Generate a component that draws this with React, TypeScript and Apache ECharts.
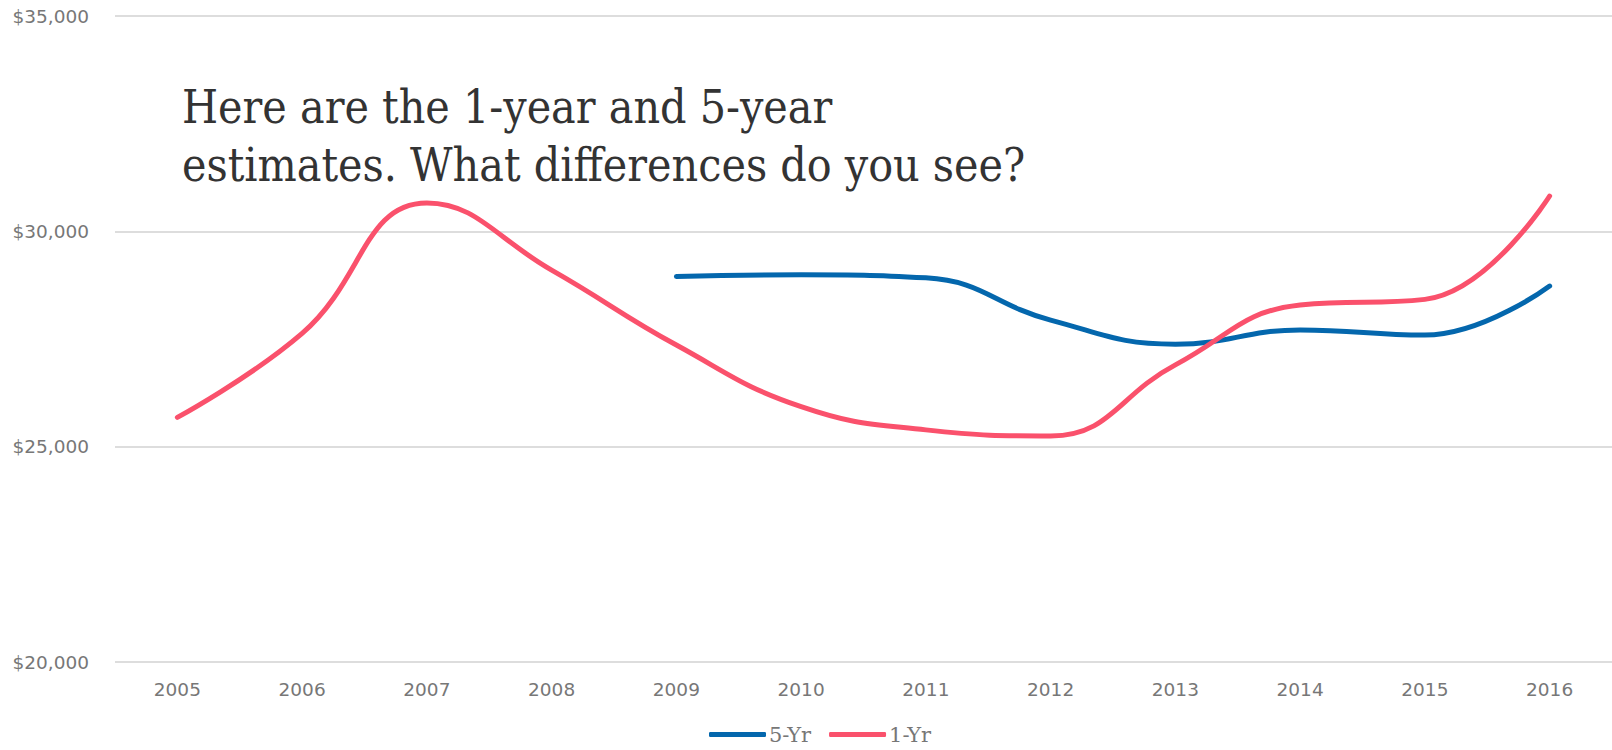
import React, { useEffect, useRef } from "react";
import * as echarts from "echarts";

const years = ["2005", "2006", "2007", "2008", "2009", "2010", "2011", "2012", "2013", "2014", "2015", "2016"];
const fiveYr: (number | null)[] = [null, null, null, null, 28950, 28990, 28920, 27940, 27380, 27710, 27590, 28730];
const oneYr: number[] = [25680, 27630, 30660, 29100, 27360, 25930, 25390, 25250, 26900, 28290, 28420, 30820];
const yTicks = { min: 20000, max: 35000, interval: 5000 };
const titleText = "Here are the 1-year and 5-year\nestimates. What differences do you see?";

export default function App() {
  const ref = useRef<HTMLDivElement>(null);
  useEffect(() => {
    if (!ref.current) return;
    const chart = echarts.init(ref.current, null, { renderer: "svg" });
    const serif = "'DejaVu Serif Condensed', 'DejaVu Serif', serif";
    const sans = "'DejaVu Sans', sans-serif";
    chart.setOption({
      animation: false,
      backgroundColor: "#ffffff",
      title: {
        text: titleText,
        left: 177,
        top: 73,
        textStyle: {
          fontFamily: serif,
          fontWeight: "normal",
          fontSize: 46,
          lineHeight: 58,
          color: "#333333",
        },
      },
      legend: {
        data: ["5-Yr", "1-Yr"],
        bottom: 0,
        left: 704,
        itemWidth: 57,
        itemHeight: 5,
        itemGap: 18,
        icon: "roundRect",
        textStyle: { fontFamily: "'DejaVu Serif', serif", fontSize: 21, color: "#777777", padding: [0, 0, 0, -2] },
      },
      grid: { left: 115, right: 0, top: 16, bottom: 88 },
      xAxis: {
        type: "category",
        data: years,
        boundaryGap: true,
        axisLine: { show: false },
        axisTick: { show: false },
        axisLabel: { color: "#777777", fontSize: 18.5, fontFamily: sans, margin: 18 },
      },
      yAxis: {
        type: "value",
        min: yTicks.min,
        max: yTicks.max,
        interval: yTicks.interval,
        axisLine: { show: false },
        axisTick: { show: false },
        splitLine: { lineStyle: { color: "#dddddd", width: 2 } },
        axisLabel: {
          color: "#777777",
          fontSize: 18.5,
          fontFamily: sans,
          margin: 26,
          formatter: (v: number) => "$" + v.toLocaleString("en-US"),
        },
      },
      series: [
        {
          name: "5-Yr",
          type: "line",
          data: fiveYr,
          smooth: 0.45,
          showSymbol: false,
          symbol: "none",
          color: "#0467ad",
          lineStyle: { width: 5, color: "#0467ad", cap: "round" },
        },
        {
          name: "1-Yr",
          type: "line",
          data: oneYr,
          smooth: 0.45,
          showSymbol: false,
          symbol: "none",
          color: "#fa516c",
          lineStyle: { width: 5, color: "#fa516c", cap: "round" },
        },
      ],
    });
    return () => chart.dispose();
  }, []);
  return (
    <div
      ref={ref}
      style={{ position: "fixed", left: 0, top: 0, width: 1612, height: 750, background: "#fff" }}
    />
  );
}
